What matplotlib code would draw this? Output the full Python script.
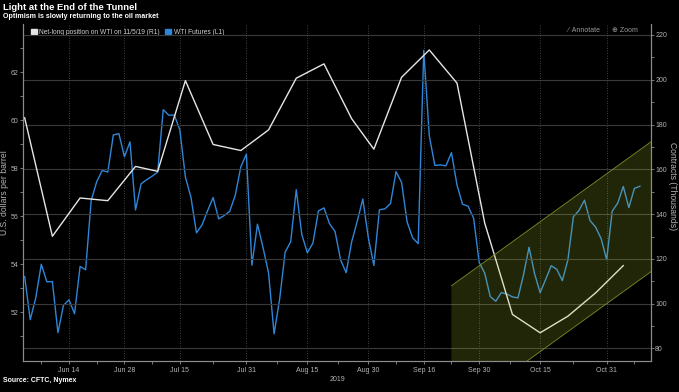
import matplotlib
matplotlib.use("Agg")
import matplotlib.pyplot as plt
import pandas as pd
import numpy as np
from matplotlib.patches import Polygon, Patch

plt.rcParams["font.family"] = ["Liberation Sans", "DejaVu Sans"]

# ---------------- data ----------------
holidays = ["2019-07-04", "2019-09-02"]
wti_start, wti_end = "2019-06-04", "2019-11-08"
wti_values = [
    # Jun
    53.48, 51.68, 52.59, 53.99, 53.26, 53.27, 51.14, 52.28, 52.51, 51.93,
    53.90, 53.76, 56.65, 57.43, 57.90, 57.83, 59.38, 59.43, 58.47,
    # Jul
    59.09, 56.25, 57.34, 57.51, 57.66, 57.83, 60.43, 60.20, 60.21, 59.58,
    57.62, 56.78, 55.30, 55.63, 56.22, 56.77, 55.88, 56.02, 56.20, 56.87,
    58.05, 58.58,
    # Aug
    53.95, 55.66, 54.69, 53.63, 51.09, 52.54, 54.50, 54.93, 57.10, 55.23,
    54.47, 54.87, 56.21, 56.34, 55.68, 55.35, 54.17, 53.64, 54.93, 55.78,
    56.71, 55.10,
    # Sep
    53.94, 56.26, 56.30, 56.52, 57.85, 57.40, 55.75, 55.09, 54.85, 62.90,
    59.34, 58.11, 58.13, 58.09, 58.64, 57.29, 56.49, 56.41, 55.91, 54.07,
    # Oct
    53.62, 52.64, 52.45, 52.81, 52.75, 52.63, 52.59, 53.55, 54.70, 53.59,
    52.81, 53.36, 53.93, 53.78, 53.31, 54.16, 55.97, 56.23, 56.66, 55.81,
    55.54, 55.06, 54.18,
    # Nov
    56.20, 56.54, 57.23, 56.35, 57.15, 57.24,
]

cot_start, cot_end = "2019-06-04", "2019-11-05"   # weekly, Tuesdays
cot_values = [183.0, 130.1, 147.2, 146.0, 161.3, 159.1, 199.6, 171.1, 168.4,
              177.6, 200.7, 207.1, 182.6, 169.0, 201.1, 213.3, 198.5, 136.0,
              95.2, 87.0, 94.4, 104.8, 117.0]

channel_dates = ["2019-09-23", "2019-11-12"]
channel_upper = [108.0, 172.3]
channel_lower = [50.0, 114.3]

tick_dates = ["2019-06-14", "2019-06-28", "2019-07-15", "2019-07-31", "2019-08-15",
              "2019-08-30", "2019-09-16", "2019-09-30", "2019-10-15", "2019-10-31"]
tick_labels = ["Jun 14", "Jun 28", "Jul 15", "Jul 31", "Aug 15",
               "Aug 30", "Sep 16", "Sep 30", "Oct 15", "Oct 31"]

title = "Light at the End of the Tunnel"
subtitle = "Optimism is slowly returning to the oil market"
source = "Source: CFTC, Nymex"
legend_labels = ["Net-long position on WTI on 11/5/19 (R1)", "WTI Futures (L1)"]

# ---------------- business-day axis ----------------
cbd = pd.offsets.CustomBusinessDay(holidays=holidays)
axis_days = pd.date_range("2019-06-04", "2019-11-12", freq=cbd)
pos = {d: i for i, d in enumerate(axis_days)}

def xp(dates):
    return np.array([pos[pd.Timestamp(d)] for d in dates], dtype=float)

wti_dates = pd.date_range(wti_start, wti_end, freq=cbd)
cot_dates = pd.date_range(cot_start, cot_end, freq="W-TUE")
assert len(wti_dates) == len(wti_values)
assert len(cot_dates) == len(cot_values)

BG = "black"
TXT = "#b4b4b4"
GRID = "#3a3a3a"
BLUE = "#2f86d8"
WHITE = "#e6e6e6"

fig = plt.figure(figsize=(6.79, 3.92), dpi=100, facecolor=BG)
ax = fig.add_axes([23 / 679, 1 - 361 / 392, (651 - 23) / 679, (361 - 24) / 392])
ax.set_facecolor(BG)
ax2 = ax.twinx()

ax.set_xlim(-0.3, 113.0)
ax.set_ylim(49.96, 64.0)
ax2.set_ylim(74.4, 224.9)

# grid: horizontal on right axis, vertical dotted on dates
ax2.set_yticks(np.arange(80, 221, 20))
ax2.set_yticks(np.arange(90, 221, 20), minor=True)
ax2.grid(axis="y", which="major", color=GRID, lw=0.8, zorder=0)
ax2.set_axisbelow(True)
xt = xp(tick_dates)
ax.set_xticks(xt)
ax.set_xticklabels(tick_labels)
mids = (xt[:-1] + xt[1:]) / 2
ax.set_xticks(np.concatenate([[xt[0] - 5], mids, [xt[-1] + 5]]), minor=True)
ax.grid(axis="x", which="major", color="#5a5a5a", lw=0.6, ls=(0, (1, 2)))

ax.set_yticks(np.arange(52, 63, 2))
ax.set_yticks(np.arange(51, 64, 2), minor=True)

# lines
ax.plot(xp(wti_dates), wti_values, color=BLUE, lw=1.0, zorder=3)
ax2.plot(xp(cot_dates), cot_values, color=WHITE, lw=1.0, zorder=3)

# channel
cx = xp(channel_dates)
poly = Polygon([[cx[0], channel_upper[0]], [cx[1], channel_upper[1]],
                [cx[1], channel_lower[1]], [cx[0], channel_lower[0]]],
               closed=True, facecolor="#b5cc30", alpha=0.19, edgecolor="none", zorder=5)
ax2.add_patch(poly)
ax2.plot(cx, channel_upper, color="#7d8c28", lw=0.6, zorder=5)
ax2.plot(cx, channel_lower, color="#7d8c28", lw=0.6, zorder=5)

# spines & ticks
for a in (ax, ax2):
    a.spines["top"].set_visible(False)
    for s in ("left", "right", "bottom"):
        a.spines[s].set_color("#8c8c8c")
        a.spines[s].set_linewidth(0.8)
ax.tick_params(axis="both", which="both", colors="#8c8c8c", labelcolor=TXT,
               labelsize=5.0, length=2, width=0.6, pad=2)
ax.tick_params(axis="y", which="both", pad=1.5)
ax2.tick_params(axis="y", which="both", colors="#8c8c8c", labelcolor=TXT,
                labelsize=5.0, length=2, width=0.6, pad=1.0)

ax.set_ylabel("U.S. dollars per barrel", color=TXT, fontsize=6.2)
ax.yaxis.set_label_coords(-0.022, 0.5)
ax2.set_ylabel("Contracts (Thousands)", color=TXT, fontsize=6.2, rotation=270, va="center")
ax2.yaxis.set_label_coords(1.035, 0.52)
ax.set_xlabel("2019", color=TXT, fontsize=5.0, labelpad=2)

# legend
handles = [Patch(facecolor=WHITE, edgecolor=WHITE), Patch(facecolor=BLUE, edgecolor=BLUE)]
leg = ax.legend(handles, legend_labels, loc="upper left", ncol=2, frameon=False,
                fontsize=4.8, handlelength=0.9, handleheight=0.9, handletextpad=0.4,
                columnspacing=0.8, bbox_to_anchor=(0.005, 1.0), borderaxespad=0.3)
for t in leg.get_texts():
    t.set_color("#d0d0d0")

fig.text(567 / 679, 1 - 30 / 392, "⁄  Annotate", color="#9a9a9a", fontsize=5.0, va="center")
fig.text(612 / 679, 1 - 30 / 392, "⊕ Zoom", color="#9a9a9a", fontsize=5.0, va="center")

fig.text(3 / 679, 1 - 8 / 392, title, color="white", fontsize=6.8, fontweight="bold", va="center")
fig.text(3 / 679, 1 - 17 / 392, subtitle, color="white", fontsize=5.1, fontweight="bold", va="center")
fig.text(3 / 679, 1 - 381 / 392, source, color="white", fontsize=5.0, fontweight="bold", va="center")

fig.savefig("out.png", dpi=100, facecolor=BG)
